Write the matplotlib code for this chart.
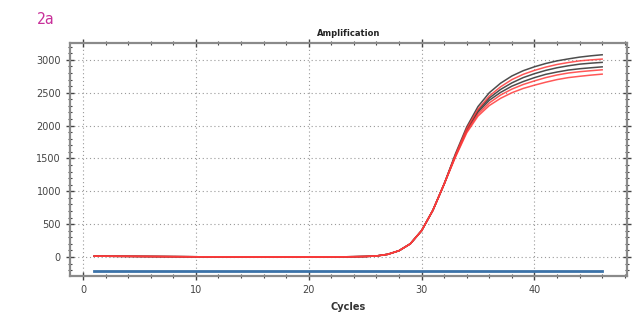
import matplotlib.pyplot as plt
import numpy as np
from matplotlib.ticker import MultipleLocator

cycles = np.arange(1, 47)

# shared baseline + early rise (cycles 1..32)
base = [12, 11, 10, 9, 8, 7, 6, 5, 4, 3, 2, 2, 1, 1, 0, 0, 0, 0, 0, 0,
        0, 1, 2, 4, 7, 15, 40, 95, 200, 400, 710, 1110]

# upper part, cycles 33..46
black_tails = [
    [1570, 1980, 2290, 2500, 2645, 2755, 2835, 2895, 2945, 2985, 3015, 3042, 3062, 3078],
    [1545, 1940, 2230, 2420, 2550, 2650, 2730, 2790, 2840, 2880, 2910, 2935, 2950, 2962],
    [1540, 1925, 2205, 2385, 2505, 2600, 2670, 2730, 2780, 2815, 2845, 2865, 2880, 2894],
]
red_tails = [
    [1555, 1955, 2250, 2450, 2590, 2700, 2780, 2840, 2890, 2930, 2960, 2985, 3000, 3012],
    [1530, 1910, 2175, 2345, 2465, 2555, 2625, 2680, 2730, 2770, 2800, 2820, 2835, 2849],
    [1520, 1890, 2145, 2305, 2415, 2500, 2565, 2615, 2660, 2700, 2730, 2750, 2768, 2783],
]
threshold = -220

fig = plt.figure(figsize=(6.43, 3.13), dpi=100)
ax = fig.add_axes([70/643, 1-276/313, (627-70)/643, (276-43)/313])

ax.plot([cycles[0], cycles[-1]], [threshold, threshold], color="#3b72a8", lw=2, zorder=2)

for t in black_tails:
    ax.plot(cycles, base + t, color="#3a3a3a", lw=1.1, alpha=0.9, zorder=3)
for t in red_tails:
    ax.plot(cycles, base + t, color="#ff3a3a", lw=1.1, alpha=0.85, zorder=4)

ax.set_xlim(-1.15, 48.2)
ax.set_ylim(-290, 3257)
ax.xaxis.set_major_locator(MultipleLocator(10))
ax.xaxis.set_minor_locator(MultipleLocator(2))
ax.yaxis.set_major_locator(MultipleLocator(500))
ax.yaxis.set_minor_locator(MultipleLocator(100))

ax.tick_params(which="both", direction="inout", top=True, right=True,
               labeltop=False, labelright=False, color="#444444",
               labelsize=7, labelcolor="#444444")
ax.tick_params(which="major", length=6, width=1)
ax.tick_params(which="minor", length=3, width=0.8)

ax.grid(True, which="major", linestyle=(0, (1, 2.5)), color="#999999", lw=0.8)
for s in ax.spines.values():
    s.set_color("#8a8a8a")
    s.set_linewidth(1.6)

ax.set_title("Amplification", fontsize=6, fontweight="bold", pad=5, color="#222222")
ax.set_xlabel("Cycles", fontsize=7, fontweight="bold", labelpad=5, color="#333333")

fig.text(37/643, 1-20/313, "2a", fontsize=10.5, color="#c8309a",
         family="DejaVu Sans Mono", va="center", ha="left")

fig.savefig("out.png", dpi=100)
